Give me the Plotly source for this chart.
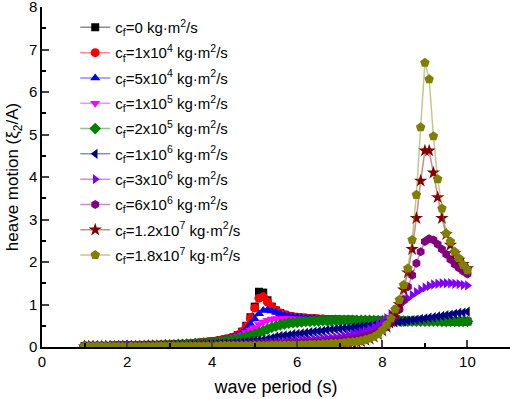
import plotly.graph_objects as go

wave_period = [round(1 + 0.1 * i, 1) for i in range(91)]

low_a = [0.02,0.02,0.02,0.02,0.02,0.02,0.02,0.03,0.03,0.03,
         0.03,0.03,0.03,0.03,0.04,0.04,0.04,0.04,0.05,0.05,
         0.05,0.06,0.06,0.07,0.07,0.08,0.09,0.10,0.11,0.12]

cf_0 = low_a + [0.13,0.14,0.16,0.18,0.20,0.23,0.28,0.36,0.50,0.70,
        0.95,1.30,1.28,1.10,0.95,0.86,0.80,0.76,0.73,0.71,
        0.70,0.69,0.68,0.67,0.67,0.66,0.66,0.65,0.65,0.65,
        0.64,0.64,0.64,0.64,0.63,0.63,0.63,0.63,0.63,0.62,
        0.62,0.62,0.62,0.62,0.62,0.62,0.61,0.61,0.61,0.61,
        0.61,0.61,0.61,0.61,0.61,0.60,0.60,0.60,0.60,0.60,
        0.60]
cf_1e4 = low_a + [0.13,0.14,0.16,0.18,0.20,0.23,0.28,0.36,0.48,0.68,
        0.92,1.15,1.18,1.06,0.94,0.86,0.80,0.76,0.73,0.71,
        0.70,0.69,0.68,0.67,0.67,0.66,0.66,0.65,0.65,0.65,
        0.64,0.64,0.64,0.64,0.63,0.63,0.63,0.63,0.63,0.62,
        0.62,0.62,0.62,0.62,0.62,0.62,0.61,0.61,0.61,0.61,
        0.61,0.61,0.61,0.61,0.61,0.60,0.60,0.60,0.60,0.60,
        0.60]
cf_5e4 = low_a + [0.13,0.14,0.16,0.18,0.20,0.23,0.27,0.33,0.42,0.54,
        0.66,0.78,0.86,0.87,0.85,0.82,0.78,0.75,0.73,0.71,
        0.70,0.69,0.68,0.67,0.67,0.66,0.66,0.65,0.65,0.65,
        0.64,0.64,0.64,0.64,0.63,0.63,0.63,0.63,0.63,0.62,
        0.62,0.62,0.62,0.62,0.62,0.62,0.61,0.61,0.61,0.61,
        0.61,0.61,0.61,0.61,0.61,0.60,0.60,0.60,0.60,0.60,
        0.60]
cf_1e5 = low_a + [0.12,0.13,0.15,0.17,0.19,0.22,0.25,0.29,0.34,0.40,
        0.46,0.53,0.59,0.63,0.66,0.67,0.67,0.67,0.67,0.66,
        0.66,0.66,0.65,0.65,0.65,0.64,0.64,0.64,0.63,0.63,
        0.63,0.63,0.62,0.62,0.62,0.62,0.61,0.61,0.61,0.61,
        0.61,0.60,0.60,0.60,0.60,0.60,0.60,0.59,0.59,0.59,
        0.59,0.59,0.59,0.58,0.58,0.58,0.58,0.58,0.58,0.58,
        0.58]
cf_2e5 = [0.02,0.02,0.02,0.02,0.02,0.02,0.02,0.02,0.03,0.03,
        0.03,0.03,0.03,0.03,0.03,0.04,0.04,0.04,0.04,0.05,
        0.05,0.05,0.06,0.06,0.07,0.07,0.08,0.08,0.09,0.10,
        0.10,0.11,0.12,0.14,0.15,0.17,0.19,0.21,0.24,0.27,
        0.30,0.34,0.38,0.42,0.46,0.49,0.52,0.54,0.56,0.57,
        0.58,0.59,0.60,0.60,0.61,0.61,0.62,0.62,0.62,0.63,
        0.63,0.63,0.63,0.63,0.63,0.63,0.63,0.63,0.62,0.62,
        0.62,0.62,0.62,0.62,0.62,0.61,0.61,0.61,0.61,0.61,
        0.61,0.61,0.61,0.61,0.60,0.60,0.60,0.60,0.60,0.60,
        0.60]
cf_1e6 = [0.01,0.01,0.01,0.01,0.01,0.01,0.02,0.02,0.02,0.02,
        0.02,0.02,0.02,0.02,0.03,0.03,0.03,0.03,0.03,0.03,
        0.04,0.04,0.04,0.04,0.04,0.05,0.05,0.05,0.05,0.06,
        0.06,0.07,0.07,0.08,0.08,0.09,0.10,0.11,0.12,0.13,
        0.14,0.16,0.17,0.19,0.21,0.24,0.26,0.27,0.28,0.30,
        0.31,0.32,0.33,0.35,0.36,0.37,0.38,0.40,0.41,0.42,
        0.43,0.44,0.45,0.46,0.47,0.48,0.49,0.50,0.51,0.52,
        0.54,0.55,0.56,0.58,0.59,0.60,0.62,0.63,0.64,0.66,
        0.67,0.69,0.70,0.72,0.73,0.75,0.76,0.78,0.80,0.81,
        0.83]
cf_3e6 = [0.01,0.01,0.01,0.01,0.01,0.01,0.01,0.01,0.01,0.02,
        0.02,0.02,0.02,0.02,0.02,0.02,0.02,0.02,0.03,0.03,
        0.03,0.03,0.03,0.03,0.03,0.03,0.03,0.04,0.04,0.04,
        0.04,0.04,0.04,0.05,0.05,0.05,0.05,0.06,0.06,0.06,
        0.08,0.08,0.09,0.10,0.10,0.11,0.12,0.12,0.13,0.14,
        0.15,0.16,0.16,0.17,0.18,0.19,0.20,0.21,0.22,0.23,
        0.24,0.26,0.28,0.30,0.32,0.35,0.38,0.42,0.47,0.53,
        0.60,0.68,0.77,0.87,0.97,1.06,1.14,1.22,1.29,1.35,
        1.40,1.44,1.47,1.49,1.50,1.50,1.50,1.49,1.48,1.46,
        1.45]
cf_6e6 = [0.01,0.01,0.01,0.01,0.01,0.01,0.01,0.01,0.01,0.01,
        0.01,0.01,0.02,0.02,0.02,0.02,0.02,0.02,0.02,0.02,
        0.02,0.02,0.02,0.03,0.03,0.03,0.03,0.03,0.03,0.03,
        0.03,0.03,0.03,0.04,0.04,0.04,0.04,0.04,0.04,0.04,
        0.04,0.04,0.05,0.05,0.05,0.06,0.06,0.06,0.07,0.07,
        0.08,0.08,0.09,0.09,0.10,0.11,0.11,0.12,0.13,0.14,
        0.15,0.16,0.17,0.19,0.20,0.22,0.25,0.28,0.32,0.36,
        0.41,0.48,0.57,0.70,0.88,1.12,1.42,1.69,1.97,2.24,
        2.48,2.55,2.52,2.42,2.30,2.18,2.06,1.95,1.86,1.78,
        1.72]
cf_1_2e7 = [0.01,0.01,0.01,0.01,0.01,0.01,0.01,0.01,0.01,0.01,
        0.01,0.01,0.01,0.01,0.01,0.02,0.02,0.02,0.02,0.02,
        0.02,0.02,0.02,0.02,0.02,0.02,0.02,0.02,0.03,0.03,
        0.03,0.03,0.03,0.03,0.03,0.03,0.03,0.03,0.03,0.03,
        0.03,0.03,0.03,0.04,0.04,0.04,0.04,0.04,0.04,0.04,
        0.04,0.04,0.05,0.05,0.05,0.05,0.05,0.05,0.06,0.06,
        0.06,0.07,0.08,0.09,0.11,0.13,0.16,0.19,0.24,0.30,
        0.38,0.47,0.60,0.78,1.00,1.35,1.75,2.30,3.03,3.91,
        4.62,4.62,4.10,3.52,3.03,2.65,2.40,2.20,2.05,1.95,
        1.85]
cf_1_8e7 = [0.01,0.01,0.01,0.01,0.01,0.01,0.01,0.01,0.01,0.01,
        0.01,0.01,0.01,0.01,0.01,0.01,0.01,0.02,0.02,0.02,
        0.02,0.02,0.02,0.02,0.02,0.02,0.02,0.02,0.02,0.02,
        0.02,0.02,0.03,0.03,0.03,0.03,0.03,0.03,0.03,0.03,
        0.03,0.03,0.03,0.03,0.04,0.04,0.04,0.04,0.04,0.04,
        0.05,0.05,0.05,0.06,0.06,0.06,0.07,0.07,0.08,0.08,
        0.09,0.10,0.11,0.12,0.13,0.15,0.17,0.20,0.24,0.30,
        0.40,0.52,0.67,0.89,1.11,1.46,1.85,2.52,3.58,5.17,
        6.69,6.30,4.96,3.95,3.26,2.67,2.48,2.24,2.09,1.93,
        1.81]

series_names = [
    "c<sub>f</sub>=0 kg·m<sup>2</sup>/s",
    "c<sub>f</sub>=1x10<sup>4</sup> kg·m<sup>2</sup>/s",
    "c<sub>f</sub>=5x10<sup>4</sup> kg·m<sup>2</sup>/s",
    "c<sub>f</sub>=1x10<sup>5</sup> kg·m<sup>2</sup>/s",
    "c<sub>f</sub>=2x10<sup>5</sup> kg·m<sup>2</sup>/s",
    "c<sub>f</sub>=1x10<sup>6</sup> kg·m<sup>2</sup>/s",
    "c<sub>f</sub>=3x10<sup>6</sup> kg·m<sup>2</sup>/s",
    "c<sub>f</sub>=6x10<sup>6</sup> kg·m<sup>2</sup>/s",
    "c<sub>f</sub>=1.2x10<sup>7</sup> kg·m<sup>2</sup>/s",
    "c<sub>f</sub>=1.8x10<sup>7</sup> kg·m<sup>2</sup>/s",
]
series_values = [cf_0, cf_1e4, cf_5e4, cf_1e5, cf_2e5, cf_1e6, cf_3e6, cf_6e6, cf_1_2e7, cf_1_8e7]
colors = [(0, 0, 0), (255, 0, 0), (0, 0, 255), (255, 0, 255), (0, 128, 0),
          (0, 0, 128), (128, 0, 255), (128, 0, 128), (128, 0, 0), (128, 128, 0)]
symbols = ["square", "circle", "triangle-up", "triangle-down", "diamond",
           "triangle-left", "triangle-right", "hexagon", "star", "pentagon"]
sizes = [8, 9, 9, 9, 9, 9, 9, 9, 10, 10]

fig = go.Figure()
for i, (name, vals, c, sym, sz) in enumerate(zip(series_names, series_values, colors, symbols, sizes)):
    fig.add_trace(go.Scatter(
        x=wave_period, y=vals, name=name, mode="lines+markers", legendgroup="g%d" % i,
        line=dict(color="rgba(%d,%d,%d,0.45)" % c, width=1.5),
        marker=dict(symbol=sym, size=sz, color="rgb(%d,%d,%d)" % c, line=dict(width=0)),
    ))

fig.update_layout(
    width=510, height=399,
    margin=dict(l=42, r=0, t=7, b=52),
    paper_bgcolor="white", plot_bgcolor="white",
    font=dict(family="Arial, Liberation Sans, sans-serif", size=15, color="black"),
    showlegend=True,
    legend=dict(x=0.071, y=0.988, xanchor="left", yanchor="top",
                bgcolor="rgba(0,0,0,0)", font=dict(size=15), tracegroupgap=2.8),
    xaxis=dict(range=[0, 11], tickvals=[0, 2, 4, 6, 8, 10], ticks="inside", ticklen=7,
               tickwidth=1.5, showline=True, linecolor="black", linewidth=1.5,
               showgrid=False, zeroline=False, automargin=False, ticklabeloverflow="allow",
               minor=dict(tickvals=[1, 3, 5, 7, 9, 11], ticks="inside", ticklen=4, tickwidth=1.5,
                          tickcolor="black", showgrid=False),
               title=dict(text="wave period (s)", font=dict(size=18), standoff=12)),
    yaxis=dict(range=[0, 8], tickvals=[0, 1, 2, 3, 4, 5, 6, 7, 8], ticks="inside", ticklen=7,
               tickwidth=1.5, showline=True, linecolor="black", linewidth=1.5,
               showgrid=False, zeroline=False, automargin=False, ticklabeloverflow="allow",
               minor=dict(dtick=0.5, ticks="inside", ticklen=4, tickwidth=1.5,
                          tickcolor="black", showgrid=False),
               title=dict(text="heave motion (ξ<sub>2</sub>/A)", font=dict(size=17), standoff=6)),
)

fig.write_html("out.html", config={"displayModeBar": False},
               post_script="document.body.style.margin='0';document.body.style.overflow='hidden';")
